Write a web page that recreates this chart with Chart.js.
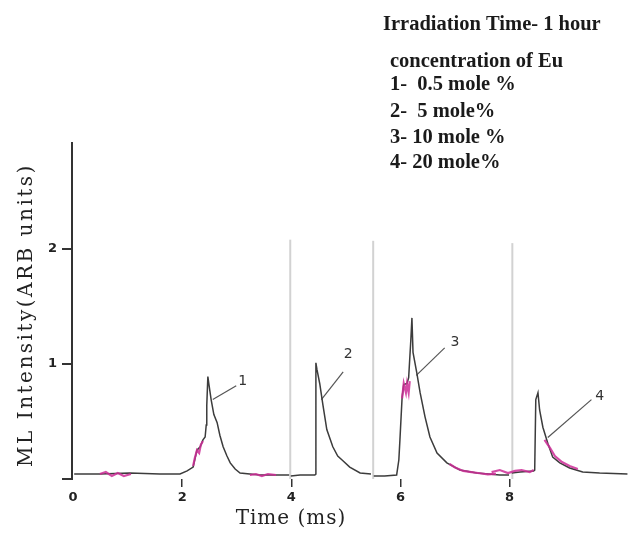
<!DOCTYPE html>
<html>
<head>
<meta charset="utf-8">
<title>ML intensity vs time</title>
<script src="https://cdn.jsdelivr.net/npm/chart.js@4.4.1/dist/chart.umd.min.js"></script>
<style>
  html, body { margin: 0; padding: 0; background: #fff; }
  canvas { display: block; }
</style>
</head>
<body>
<canvas id="myChart" width="628" height="547"></canvas>
<script>
// Values: time in ms, ML intensity in ARB units
const trace1Time = [0.02, 0.49, 1.04, 1.59, 1.96, 2.09, 2.20, 2.25, 2.27, 2.33, 2.38, 2.42, 2.44, 2.45, 2.47, 2.49, 2.53, 2.58, 2.64, 2.69, 2.75, 2.82, 2.88, 2.97, 3.06, 3.42, 3.96];
const trace1Intensity = [0.043, 0.043, 0.052, 0.043, 0.043, 0.07, 0.104, 0.21, 0.25, 0.28, 0.34, 0.365, 0.47, 0.64, 0.89, 0.82, 0.69, 0.56, 0.49, 0.38, 0.28, 0.20, 0.14, 0.087, 0.052, 0.035, 0.035];

const trace2Time = [3.99, 4.16, 4.43, 4.45, 4.45, 4.47, 4.52, 4.58, 4.65, 4.76, 4.85, 4.93, 5.07, 5.26, 5.46];
const trace2Intensity = [0.026, 0.035, 0.035, 0.043, 1.01, 0.95, 0.83, 0.64, 0.43, 0.28, 0.20, 0.165, 0.104, 0.052, 0.043];

const trace3Time = [5.51, 5.71, 5.93, 5.97, 5.99, 6.03, 6.06, 6.12, 6.15, 6.19, 6.21, 6.23, 6.30, 6.36, 6.45, 6.54, 6.67, 6.85, 7.09, 7.40, 7.82, 7.99];
const trace3Intensity = [0.026, 0.026, 0.035, 0.165, 0.34, 0.71, 0.82, 0.83, 0.88, 1.21, 1.40, 1.10, 0.92, 0.75, 0.54, 0.365, 0.226, 0.14, 0.078, 0.052, 0.035, 0.035];

const trace4Time = [8.04, 8.19, 8.44, 8.46, 8.48, 8.52, 8.55, 8.61, 8.70, 8.79, 8.92, 9.10, 9.34, 9.65, 10.16];
const trace4Intensity = [0.052, 0.061, 0.07, 0.078, 0.69, 0.75, 0.60, 0.45, 0.31, 0.19, 0.14, 0.096, 0.061, 0.052, 0.043];

// Magenta (second scan) pieces that sit on top of the black traces
const pinkTime = [
    [0.49, 0.60, 0.71, 0.82, 0.93, 1.06],
    [2.20, 2.23, 2.27, 2.31, 2.34, 2.38],
    [3.24, 3.35, 3.46, 3.57, 3.72],
    [6.03, 6.06, 6.10, 6.12, 6.15, 6.17],
    [6.90, 7.00, 7.15, 7.30, 7.45, 7.60, 7.75],
    [7.67, 7.82, 7.97, 8.10, 8.22, 8.37, 8.44],
    [8.64, 8.74, 8.83, 8.96, 9.10, 9.25]
];
const pinkIntensity = [
    [0.043, 0.061, 0.026, 0.052, 0.026, 0.043],
    [0.113, 0.18, 0.25, 0.226, 0.296, 0.33],
    [0.035, 0.043, 0.026, 0.043, 0.035],
    [0.70, 0.83, 0.75, 0.83, 0.75, 0.85],
    [0.13, 0.10, 0.07, 0.06, 0.05, 0.04, 0.045],
    [0.06, 0.078, 0.052, 0.07, 0.078, 0.06, 0.078],
    [0.34, 0.27, 0.20, 0.148, 0.113, 0.087]
];

// Light grey edges of the pasted panels
const panelEdgeTime = [3.98, 5.50, 8.05];
const panelEdgeTop = [2.08, 2.07, 2.05];

// Curve numbers and their leader lines
const curveLabels = ['1', '2', '3', '4'];
const curveLabelTime = [3.11, 5.04, 7.00, 9.65];
const curveLabelIntensity = [0.85, 1.08, 1.19, 0.72];
const leaderTime = [[2.56, 2.99], [4.55, 4.95], [6.29, 6.81], [8.70, 9.50]];
const leaderIntensity = [[0.69, 0.81], [0.69, 0.93], [0.90, 1.14], [0.36, 0.69]];

const xTickValues = [0, 2, 4, 6, 8];
const yTickValues = [0, 1, 2];

const legendTitle = 'Irradiation Time- 1 hour';
const legendLines = ['concentration of Eu', '1-  0.5 mole %', '2-  5 mole%', '3- 10 mole %', '4- 20 mole%'];
const xTitle = 'Time (ms)';
const yTitle = 'ML Intensity(ARB units)';

const zip = (xs, ys) => xs.map((x, i) => ({ x, y: ys[i] }));

const line = (data, color, width, order) => ({
    data,
    borderColor: color,
    borderWidth: width,
    pointRadius: 0,
    showLine: true,
    fill: false,
    tension: 0,
    order
});

const datasets = [];
pinkTime.forEach((t, i) => datasets.push(line(zip(t, pinkIntensity[i]), 'rgba(205,45,150,0.85)', 2.2, 0)));
datasets.push(line(zip(trace1Time, trace1Intensity), '#3c3c3c', 1.5, 1));
datasets.push(line(zip(trace2Time, trace2Intensity), '#3c3c3c', 1.5, 1));
datasets.push(line(zip(trace3Time, trace3Intensity), '#3c3c3c', 1.5, 1));
datasets.push(line(zip(trace4Time, trace4Intensity), '#3c3c3c', 1.5, 1));
leaderTime.forEach((t, i) => datasets.push(line(zip(t, leaderIntensity[i]), '#555', 1.2, 1)));
panelEdgeTime.forEach((t, i) => datasets.push(line(zip([t, t], [0, panelEdgeTop[i]]), '#d2d2d2', 2, 2)));

// Texts that are not part of the axes
const textPlugin = {
    id: 'texts',
    afterDraw: (chart) => {
        const ctx = chart.ctx;
        const x = chart.scales.x;
        const y = chart.scales.y;
        ctx.save();
        ctx.fillStyle = '#1a1a1a';
        ctx.textBaseline = 'alphabetic';

        ctx.font = 'bold 20.5px "Liberation Serif"';
        ctx.fillText(legendTitle, 383, 30);
        const baselines = [67, 90, 117, 143, 168];
        legendLines.forEach((t, i) => ctx.fillText(t, 390, baselines[i]));

        ctx.fillStyle = '#333';
        ctx.font = '14px "DejaVu Sans"';
        ctx.textAlign = 'center';
        ctx.textBaseline = 'middle';
        curveLabels.forEach((t, i) => {
            ctx.fillText(t, x.getPixelForValue(curveLabelTime[i]), y.getPixelForValue(curveLabelIntensity[i]));
        });

        ctx.fillStyle = '#222';
        ctx.font = '20px "DejaVu Serif"';
        ctx.letterSpacing = '1px';
        ctx.fillText(xTitle, 291, 519);
        ctx.letterSpacing = '2.5px';
        ctx.translate(27, 315);
        ctx.rotate(-Math.PI / 2);
        ctx.fillText(yTitle, 0, 0);
        ctx.restore();
    }
};

const chart = new Chart(document.getElementById('myChart').getContext('2d'), {
    type: 'scatter',
    data: { datasets },
    options: {
        responsive: false,
        animation: false,
        layout: { padding: { top: 143, right: 0, left: 0, bottom: 0 } },
        plugins: { legend: { display: false }, tooltip: { enabled: false } },
        scales: {
            x: {
                type: 'linear',
                min: -0.02,
                max: 10.17,
                afterBuildTicks: (scale) => { scale.ticks = xTickValues.map(v => ({ value: v })); },
                afterFit: (scale) => { scale.height = 68; },
                border: { display: false },
                grid: {
                    drawOnChartArea: false,
                    tickLength: 8,
                    lineWidth: 1.5,
                    color: (c) => (c.tick && c.tick.value === 0 ? 'rgba(0,0,0,0)' : '#333')
                },
                ticks: { color: '#222', font: { family: 'DejaVu Sans', size: 13, weight: 'bold' }, padding: 3 }
            },
            y: {
                type: 'linear',
                min: 0,
                max: 2.92,
                afterBuildTicks: (scale) => { scale.ticks = yTickValues.map(v => ({ value: v })); },
                afterFit: (scale) => { scale.width = 72; },
                border: { display: true, color: '#333', width: 2 },
                grid: { drawOnChartArea: false, tickLength: 10, lineWidth: 2, color: '#333' },
                ticks: {
                    color: '#222',
                    font: { family: 'DejaVu Sans', size: 13, weight: 'bold' },
                    padding: 5,
                    callback: (v) => (v === 0 ? '' : v)
                }
            }
        }
    },
    plugins: [textPlugin]
});
</script>
</body>
</html>
